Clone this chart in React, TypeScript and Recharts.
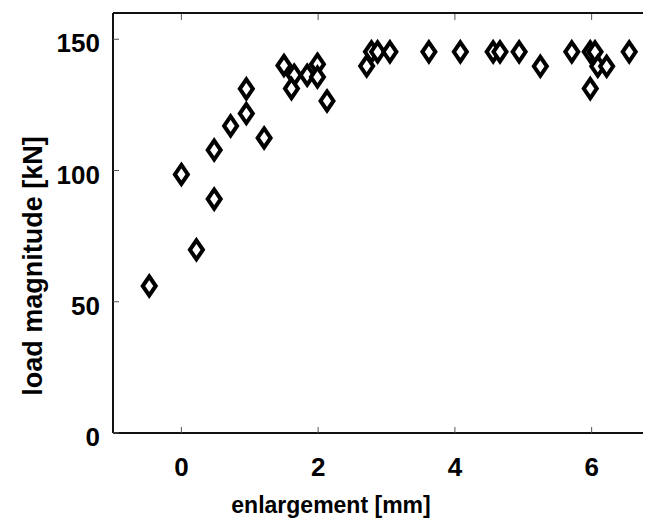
import React from 'react'
import { ScatterChart, Scatter, XAxis, YAxis } from 'recharts'

// enlargement [mm] vs load magnitude [kN]
const enlargement = [
  -0.47, 0.0, 0.22, 0.48, 0.48, 0.72, 0.95, 0.95, 1.21, 1.5, 1.65, 1.61, 1.84, 1.99, 1.99, 2.13,
  2.71, 2.78, 2.87, 3.05, 3.62, 4.08, 4.56, 4.66, 4.94, 5.25, 5.71, 5.98, 6.05, 6.09, 6.22, 5.98,
  6.55,
]
const load = [
  56, 98.5, 69.8, 107.8, 89.1, 117, 131.1, 121.7, 112.4, 140, 136.3, 131.2, 136.3, 140.5, 135.6,
  126.5, 139.8, 145.2, 145.2, 145.2, 145.2, 145.2, 145.2, 145.2, 145.2, 139.7, 145.2, 145.2, 145.2,
  139.7, 139.7, 131.2, 145.2,
]
const xTicks = [0, 2, 4, 6]
const yTicks = [0, 50, 100, 150]

const data = enlargement.map((x, i) => ({ x, y: load[i] }))

const font = '"Liberation Sans", Arial, sans-serif'
const TICK_LEN = 6
const X_MARGIN = 24
const Y_MARGIN = 13

// white diamond with a thick black outline
const Diamond = (props: any) => {
  const { cx, cy } = props
  if (cx == null || cy == null) return null
  return (
    <path
      d={`M${cx},${cy - 9.5}L${cx + 6.5},${cy}L${cx},${cy + 9.5}L${cx - 6.5},${cy}Z`}
      fill="#fff"
      stroke="#000"
      strokeWidth={4}
    />
  )
}

// ticks point into the plot, so the tick line is drawn together with the label
const BottomTick = (props: any) => {
  const { x, y, payload } = props
  const axisY = y - X_MARGIN
  return (
    <g>
      <line x1={x} x2={x} y1={axisY} y2={axisY - TICK_LEN} stroke="#555" />
      <text
        x={x}
        y={y}
        dy={19}
        textAnchor="middle"
        fontFamily={font}
        fontWeight="bold"
        fontSize={26}
        fill="#000"
      >
        {payload.value}
      </text>
    </g>
  )
}

const TopTick = (props: any) => {
  const { x, y } = props
  const axisY = y + 1
  return <line x1={x} x2={x} y1={axisY} y2={axisY + TICK_LEN} stroke="#555" />
}

const LeftTick = (props: any) => {
  const { x, y, payload } = props
  const axisX = x + Y_MARGIN
  return (
    <g>
      <line x1={axisX} x2={axisX + TICK_LEN} y1={y} y2={y} stroke="#555" />
      <text
        x={x}
        y={y}
        dy={13}
        textAnchor="end"
        fontFamily={font}
        fontWeight="bold"
        fontSize={26}
        fill="#000"
      >
        {payload.value}
      </text>
    </g>
  )
}

const XTitle = (props: any) => {
  const { viewBox } = props
  return (
    <text
      x={viewBox.x + 218}
      y={viewBox.y + viewBox.height - 7}
      textAnchor="middle"
      fontFamily={font}
      fontWeight="bold"
      fontSize={23}
      fill="#000"
    >
      enlargement [mm]
    </text>
  )
}

const YTitle = () => (
  <text
    x={34}
    y={258}
    transform="rotate(-90 34 258)"
    textAnchor="middle"
    fontFamily={font}
    fontWeight="bold"
    fontSize={27}
    fill="#000"
  >
    load magnitude [kN]
  </text>
)

export default function App() {
  return (
    <div style={{ width: 643, height: 512, overflow: 'hidden' }}>
      <ScatterChart width={660} height={512} margin={{ top: 4, right: 8, bottom: 0, left: 0 }}>
        <XAxis
          dataKey="x"
          type="number"
          domain={[-1, 7]}
          ticks={xTicks}
          height={87}
          tickSize={0}
          tickMargin={X_MARGIN}
          tick={<BottomTick />}
          tickLine={false}
          axisLine={{ stroke: '#111', strokeWidth: 2 }}
          label={<XTitle />}
        />
        <XAxis
          xAxisId="top"
          orientation="top"
          dataKey="x"
          type="number"
          domain={[-1, 7]}
          ticks={xTicks}
          height={1}
          tickSize={0}
          tickMargin={0}
          tick={<TopTick />}
          tickLine={false}
          axisLine={{ stroke: '#111', strokeWidth: 2 }}
        />
        <YAxis
          dataKey="y"
          type="number"
          domain={[0, 160]}
          ticks={yTicks}
          width={105}
          tickSize={0}
          tickMargin={Y_MARGIN}
          tick={<LeftTick />}
          tickLine={false}
          axisLine={{ stroke: '#111', strokeWidth: 2 }}
          label={<YTitle />}
        />
        <Scatter data={data} shape={<Diamond />} isAnimationActive={false} />
        <Scatter xAxisId="top" data={data} shape={() => <g />} isAnimationActive={false} />
      </ScatterChart>
    </div>
  )
}
